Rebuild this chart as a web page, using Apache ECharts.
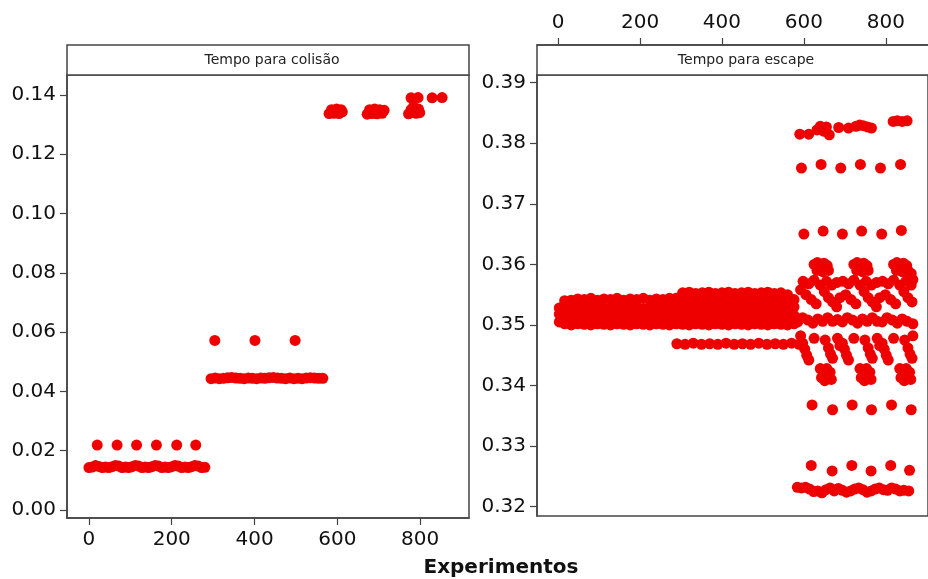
<!DOCTYPE html>
<html><head><meta charset="utf-8">
<script src="https://cdn.jsdelivr.net/npm/echarts@6/dist/echarts.min.js"></script>
<style>html,body{margin:0;padding:0;background:#fff}#c{width:928px;height:579px}</style>
</head><body><div id="c"></div>
<script>
// ---------- tick labels ----------
const colisaoXTicks = [0, 200, 400, 600, 800];
const colisaoYTicks = [0, 0.02, 0.04, 0.06, 0.08, 0.10, 0.12, 0.14];
const escapeXTicks = [0, 200, 400, 600, 800];
const escapeYTicks = [0.32, 0.33, 0.34, 0.35, 0.36, 0.37, 0.38, 0.39];
const panelTitles = ['Tempo para colisão', 'Tempo para escape'];
const xAxisTitle = 'Experimentos';

// ---------- Tempo para colisão ----------
const colisaoRow1 = [[0,0.0143],[8,0.0145],[16,0.0150],[24,0.0147],[32,0.0143],[40,0.0145],[48,0.0143],[56,0.0146],[64,0.0150],[72,0.0148],[80,0.0143],[88,0.0145],[96,0.0143],[104,0.0146],[112,0.0150],[120,0.0148],[128,0.0143],[136,0.0145],[144,0.0143],[152,0.0146],[160,0.0150],[168,0.0148],[176,0.0143],[184,0.0145],[192,0.0143],[200,0.0146],[208,0.0150],[216,0.0148],[224,0.0143],[232,0.0145],[240,0.0143],[248,0.0146],[256,0.0150],[264,0.0148],[272,0.0143],[280,0.0144]];
const colisaoUpper1 = [[20,0.0219],[68,0.0219],[115,0.0219],[163,0.0219],[212,0.0219],[258,0.0219]];
const colisaoRow2 = [[295,0.0443],[305,0.0445],[315,0.0443],[325,0.0444],[335,0.0446],[345,0.0447],[355,0.0445],[365,0.0444],[375,0.0443],[385,0.0445],[395,0.0444],[405,0.0443],[415,0.0445],[425,0.0444],[435,0.0446],[445,0.0447],[455,0.0445],[465,0.0444],[475,0.0443],[485,0.0445],[495,0.0443],[505,0.0444],[515,0.0443],[525,0.0445],[535,0.0446],[545,0.0445],[555,0.0444],[565,0.0444]];
const colisaoUpper2 = [[304,0.0572],[401,0.0572],[498,0.0572]];
const colisaoGroup3 = [[580,0.1337],[586,0.1350],[592,0.1338],[598,0.1352],[604,0.1337],[609,0.1350],[612,0.1343],
  [672,0.1335],[678,0.1350],[684,0.1337],[690,0.1352],[696,0.1336],[702,0.1350],[708,0.1338],[713,0.1348],
  [772,0.1336],[778,0.1350],[784,0.1360],[790,0.1338],[796,0.1352],[799,0.1340]];
const colisaoUpper3 = [[778,0.1390],[795,0.1391],[829,0.1390],[853,0.1391]];

// ---------- Tempo para escape ----------
const escapeBand = [
 [3,0.3505],[3,0.3518],[3,0.3528],
 [16,0.3502],[16,0.3515],[16,0.3528],[16,0.3540],
 [32,0.3500],[32,0.3513],[32,0.3526],[32,0.3541],
 [48,0.3502],[48,0.3516],[48,0.3530],[48,0.3543],
 [64,0.3501],[64,0.3514],[64,0.3528],[64,0.3542],
 [80,0.3500],[80,0.3515],[80,0.3529],[80,0.3544],
 [96,0.3502],[96,0.3516],[96,0.3530],[96,0.3541],
 [112,0.3501],[112,0.3514],[112,0.3527],[112,0.3543],
 [128,0.3500],[128,0.3515],[128,0.3529],[128,0.3542],
 [144,0.3502],[144,0.3516],[144,0.3530],[144,0.3544],
 [160,0.3501],[160,0.3514],[160,0.3528],[160,0.3541],
 [176,0.3500],[176,0.3515],[176,0.3529],[176,0.3543],
 [192,0.3502],[192,0.3516],[192,0.3530],[192,0.3542],
 [208,0.3501],[208,0.3514],[208,0.3527],[208,0.3544],
 [224,0.3500],[224,0.3515],[224,0.3529],[224,0.3541],
 [240,0.3502],[240,0.3516],[240,0.3530],[240,0.3543],
 [256,0.3501],[256,0.3514],[256,0.3528],[256,0.3542],
 [272,0.3500],[272,0.3515],[272,0.3529],[272,0.3544],
 [288,0.3502],[288,0.3516],[288,0.3530],[288,0.3544],
 [304,0.3501],[304,0.3514],[304,0.3528],[304,0.3541],[304,0.3553],
 [320,0.3500],[320,0.3515],[320,0.3529],[320,0.3543],[320,0.3554],
 [336,0.3502],[336,0.3516],[336,0.3530],[336,0.3542],[336,0.3552],
 [352,0.3501],[352,0.3514],[352,0.3527],[352,0.3540],[352,0.3553],
 [368,0.3500],[368,0.3515],[368,0.3529],[368,0.3542],[368,0.3554],
 [384,0.3502],[384,0.3516],[384,0.3530],[384,0.3543],[384,0.3552],
 [400,0.3501],[400,0.3514],[400,0.3528],[400,0.3541],[400,0.3553],
 [416,0.3500],[416,0.3515],[416,0.3529],[416,0.3542],[416,0.3554],
 [432,0.3502],[432,0.3516],[432,0.3530],[432,0.3544],[432,0.3552],
 [448,0.3501],[448,0.3514],[448,0.3527],[448,0.3541],[448,0.3553],
 [464,0.3500],[464,0.3515],[464,0.3529],[464,0.3543],[464,0.3554],
 [480,0.3502],[480,0.3516],[480,0.3530],[480,0.3542],[480,0.3552],
 [496,0.3501],[496,0.3514],[496,0.3528],[496,0.3540],[496,0.3553],
 [512,0.3500],[512,0.3515],[512,0.3529],[512,0.3543],[512,0.3554],
 [528,0.3502],[528,0.3516],[528,0.3530],[528,0.3542],[528,0.3552],
 [544,0.3501],[544,0.3514],[544,0.3527],[544,0.3541],[544,0.3553],
 [560,0.3500],[560,0.3515],[560,0.3529],[560,0.3543],[560,0.3550],
 [576,0.3502],[576,0.3516],[576,0.3530],[576,0.3542]
];
const escapeLowerRow = [[290,0.3469],[310,0.3468],[330,0.3470],[350,0.3468],[370,0.3469],[390,0.3468],[410,0.3470],[430,0.3468],[450,0.3469],[470,0.3468],[490,0.3470],[510,0.3468],[530,0.3469],[550,0.3468],[570,0.3470],[588,0.3468]];
const escapeRow383 = [[590,0.3815],[612,0.3815],[632,0.3822],[640,0.3828],[648,0.3820],[655,0.3827],[662,0.3814],[685,0.3826],[709,0.3825],[727,0.3828],[736,0.3830],[745,0.3829],[755,0.3827],[765,0.3825],[818,0.3836],[828,0.3837],[840,0.3836],[852,0.3837]];
const escapeRow376 = [[594,0.3759],[642,0.3765],[690,0.3759],[738,0.3765],[787,0.3759],[836,0.3765]];
const escapeRow365 = [[600,0.3650],[647,0.3655],[694,0.3650],[741,0.3655],[790,0.3650],[838,0.3656]];
const escapeMid1 = [
 [625,0.3600],[633,0.3603],[641,0.3600],[649,0.3602],[657,0.3598],[632,0.3590],[646,0.3588],[660,0.3590],
 [598,0.3572],[612,0.3568],[625,0.3574],[640,0.3566],[655,0.3572],[668,0.3566],[680,0.3570],
 [592,0.3558],[605,0.3550],[618,0.3542],[630,0.3535],[650,0.3555],[660,0.3545],[670,0.3538],[680,0.3530],[688,0.3545],
 [585,0.3505],[597,0.3512],[610,0.3508],[622,0.3503],[634,0.3510],[646,0.3506],[658,0.3512],[670,0.3506],[682,0.3509],
 [592,0.3482],[597,0.3470],[602,0.3460],[607,0.3450],[612,0.3442],[625,0.3478],[652,0.3475],[660,0.3462],[665,0.3452],[670,0.3445],[682,0.3478],[688,0.3466],
 [640,0.3428],[648,0.3422],[656,0.3428],[664,0.3422],[643,0.3413],[651,0.3408],[659,0.3415],[667,0.3410]
];
const escapeMid2 = [
 [722,0.3600],[730,0.3603],[738,0.3600],[746,0.3602],[754,0.3598],[729,0.3590],[743,0.3588],[757,0.3590],
 [695,0.3572],[709,0.3568],[722,0.3574],[737,0.3566],[752,0.3572],[765,0.3566],[777,0.3570],
 [702,0.3550],[715,0.3542],[727,0.3535],[747,0.3555],[757,0.3545],[767,0.3538],[777,0.3530],[785,0.3545],
 [694,0.3505],[706,0.3512],[719,0.3508],[731,0.3503],[743,0.3510],[755,0.3506],[767,0.3512],[779,0.3506],
 [694,0.3470],[699,0.3460],[704,0.3450],[709,0.3442],[722,0.3478],[749,0.3475],[757,0.3462],[762,0.3452],[767,0.3445],[779,0.3478],[785,0.3466],
 [737,0.3428],[745,0.3422],[753,0.3428],[761,0.3422],[740,0.3413],[748,0.3408],[756,0.3415],[764,0.3410]
];
const escapeMid3 = [
 [819,0.3600],[827,0.3603],[835,0.3600],[843,0.3602],[851,0.3598],[826,0.3590],[840,0.3588],[854,0.3590],[862,0.3585],[866,0.3575],
 [792,0.3572],[806,0.3568],[819,0.3574],[834,0.3566],[849,0.3572],[862,0.3566],
 [799,0.3550],[812,0.3542],[824,0.3535],[844,0.3555],[854,0.3545],[864,0.3538],
 [791,0.3505],[803,0.3512],[816,0.3508],[828,0.3503],[840,0.3510],[852,0.3506],[866,0.3502],
 [791,0.3470],[796,0.3460],[801,0.3450],[806,0.3442],[819,0.3478],[846,0.3475],[854,0.3462],[859,0.3452],[864,0.3445],[866,0.3482],
 [834,0.3428],[842,0.3422],[850,0.3428],[858,0.3422],[837,0.3413],[845,0.3408],[853,0.3415],[861,0.3410]
];
const escapeRow336 = [[620,0.3368],[670,0.3360],[718,0.3368],[765,0.3360],[814,0.3368],[862,0.3360]];
const escapeRow326 = [[618,0.3268],[669,0.3259],[717,0.3268],[764,0.3259],[812,0.3268],[858,0.3260]];
const escapeRow323 = [[584,0.3232],[594,0.3231],[604,0.3232],[614,0.3229],[624,0.3225],[634,0.3226],[644,0.3223],[654,0.3228],[664,0.3231],[674,0.3226],[684,0.3230],[694,0.3227],[704,0.3224],[714,0.3226],[724,0.3229],[734,0.3231],[744,0.3228],[754,0.3224],[764,0.3226],[774,0.3229],[784,0.3231],[794,0.3228],[804,0.3227],[814,0.3231],[824,0.3229],[834,0.3226],[844,0.3227],[856,0.3226]];

const colisaoData = [].concat(colisaoRow1, colisaoUpper1, colisaoRow2, colisaoUpper2, colisaoGroup3, colisaoUpper3);
const escapeData = [].concat(escapeBand, escapeLowerRow, escapeRow383, escapeRow376, escapeRow365, escapeMid1, escapeMid2, escapeMid3, escapeRow336, escapeRow326, escapeRow323);

const FONT = 'DejaVu Sans';
const frame = '#444';
const red = '#ee0000';

const chart = echarts.init(document.getElementById('c'), null, {renderer: 'canvas'});
function xAx(grid, ticks, min, max, top) {
  return {
    type: 'value', gridIndex: grid, min: min, max: max,
    position: top ? 'top' : 'bottom', offset: top ? 30 : 0,
    axisLine: {show: true, onZero: false, lineStyle: {color: frame, width: 1.5}},
    axisTick: {show: true, inside: false, length: 7, customValues: ticks, lineStyle: {color: frame, width: 1.2}},
    axisLabel: {customValues: ticks, fontFamily: FONT, fontSize: 20, color: '#111', margin: 12},
    splitLine: {show: false}
  };
}
function yAx(grid, ticks, min, max) {
  return {
    type: 'value', gridIndex: grid, min: min, max: max, position: 'left',
    axisLine: {show: true, onZero: false, lineStyle: {color: frame, width: 1.5}},
    axisTick: {show: true, inside: false, length: 7, customValues: ticks, lineStyle: {color: frame, width: 1.2}},
    axisLabel: {customValues: ticks, fontFamily: FONT, fontSize: 20, color: '#111', margin: 11,
      formatter: v => v.toFixed(2)},
    splitLine: {show: false}
  };
}
chart.setOption({
  animation: false,
  backgroundColor: '#fff',
  grid: [
    {left: 67, top: 75, width: 402, height: 443, show: true, borderColor: frame, borderWidth: 1.5, backgroundColor: 'transparent'},
    {left: 537, top: 75, width: 395, height: 441, show: true, borderColor: frame, borderWidth: 1.5, backgroundColor: 'transparent'}
  ],
  xAxis: [xAx(0, colisaoXTicks, -53, 918, false), xAx(1, escapeXTicks, -51.5, 903, true)],
  yAxis: [yAx(0, colisaoYTicks, -0.0027, 0.1467), yAx(1, escapeYTicks, 0.31846, 0.39127)],
  series: [
    {type: 'scatter', xAxisIndex: 0, yAxisIndex: 0, data: colisaoData, symbolSize: 11, itemStyle: {color: red, opacity: 1}, silent: true},
    {type: 'scatter', xAxisIndex: 1, yAxisIndex: 1, data: escapeData, symbolSize: 11, itemStyle: {color: red, opacity: 1}, silent: true}
  ],
  graphic: [
    {type: 'rect', shape: {x: 67, y: 45, width: 402, height: 30}, style: {fill: '#fff', stroke: frame, lineWidth: 1.5}},
    {type: 'text', x: 272, y: 60, style: {text: panelTitles[0], font: '14px "DejaVu Sans"', fill: '#222', textAlign: 'center', textVerticalAlign: 'middle'}},
    {type: 'rect', shape: {x: 537, y: 45, width: 395, height: 30}, style: {fill: '#fff', stroke: frame, lineWidth: 1.5}},
    {type: 'text', x: 746, y: 60, style: {text: panelTitles[1], font: '14px "DejaVu Sans"', fill: '#222', textAlign: 'center', textVerticalAlign: 'middle'}},
    {type: 'text', x: 501, y: 568, style: {text: xAxisTitle, font: 'bold 20px "DejaVu Sans"', fill: '#111', textAlign: 'center', textVerticalAlign: 'middle'}}
  ]
});
</script></body></html>
